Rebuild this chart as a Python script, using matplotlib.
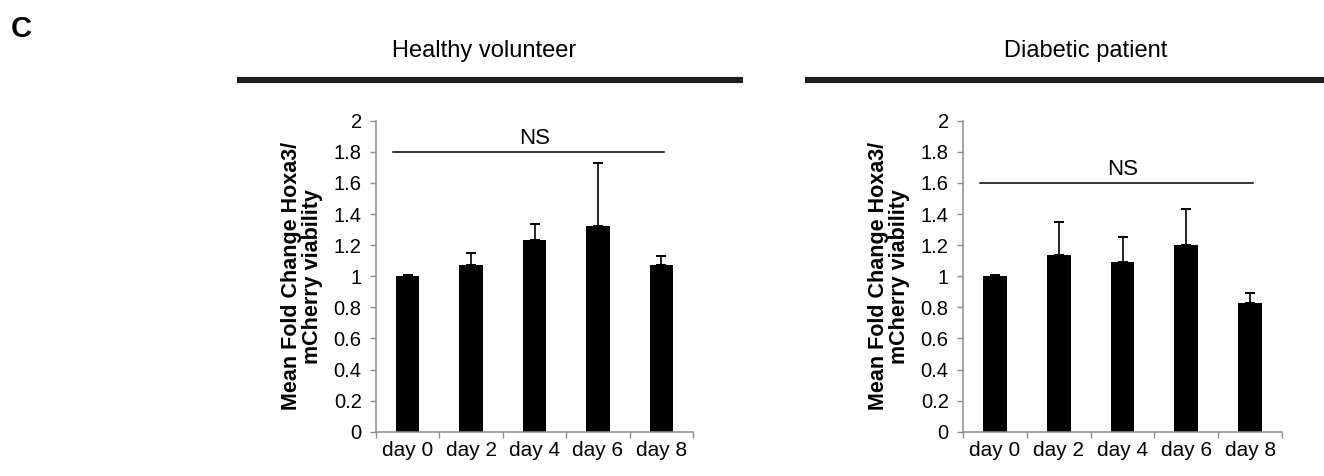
import matplotlib
matplotlib.use('Agg')
import matplotlib.pyplot as plt
from matplotlib.lines import Line2D

plt.rcParams['font.family'] = ['Liberation Sans', 'DejaVu Sans']

days = ['day 0', 'day 2', 'day 4', 'day 6', 'day 8']

healthy_mean = [1.0, 1.07, 1.235, 1.325, 1.07]
healthy_err = [0.005, 0.08, 0.10, 0.40, 0.06]
healthy_ns = 1.8

diabetic_mean = [1.0, 1.135, 1.09, 1.2, 0.825]
diabetic_err = [0.005, 0.215, 0.16, 0.23, 0.07]
diabetic_ns = 1.6

panel_titles = ['Healthy volunteer', 'Diabetic patient']
ylabel = 'Mean Fold Change Hoxa3/\nmCherry viability'

W, H = 1324, 476
fig = plt.figure(figsize=(W / 100, H / 100), dpi=100)

axis_grey = '#8c8c8c'


def px(x, y):
    # pixel position (from top-left) to figure fraction
    return x / W, 1 - y / H


def draw_panel(rect, means, errs, ns_y):
    ax = fig.add_axes(rect)
    x = range(len(days))
    ax.bar(x, means, width=0.37, color='black', zorder=2)
    ax.errorbar(x, means, yerr=[[0] * len(errs), errs], fmt='none',
                ecolor='black', elinewidth=1.2, capsize=3.9, capthick=1.4, zorder=3)
    ax.set_xlim(-0.5, len(days) - 0.5)
    ax.set_ylim(0, 2)
    ax.set_yticks([i / 5 for i in range(11)])
    ax.set_yticklabels(['0', '0.2', '0.4', '0.6', '0.8', '1', '1.2', '1.4', '1.6', '1.8', '2'])
    ax.set_xticks(list(x))
    ax.set_xticklabels(days)
    ax.set_xticks([i - 0.5 for i in range(len(days) + 1)], minor=True)
    ax.tick_params(axis='x', which='major', length=0, pad=7, labelsize=15)
    ax.tick_params(axis='x', which='minor', length=4.5, width=1, color=axis_grey, direction='out')
    ax.tick_params(axis='y', length=4.3, width=1, color=axis_grey, pad=6, labelsize=14.5)
    for side in ['top', 'right']:
        ax.spines[side].set_visible(False)
    for side in ['left', 'bottom']:
        ax.spines[side].set_color(axis_grey)
        ax.spines[side].set_linewidth(1.1)
    ax.set_ylabel(ylabel, fontsize=15.5, fontweight='bold', linespacing=1.0, va='center')
    ax.yaxis.set_label_coords(-0.232, 0.5)
    # significance bar across all days
    ax.plot([-0.23, 4.04], [ns_y, ns_y], color='black', lw=1.1, clip_on=False)
    ax.text(2, ns_y + 0.05, 'NS', ha='center', va='baseline', fontsize=16)
    return ax


draw_panel([376 / W, 44.3 / H, 317 / W, 311 / H], healthy_mean, healthy_err, healthy_ns)
draw_panel([963 / W, 44.3 / H, 319 / W, 311 / H], diabetic_mean, diabetic_err, diabetic_ns)

# group headers with thick rules
fig.text(*px(392, 57), panel_titles[0], ha='left', va='baseline', fontsize=17)
fig.text(*px(1004, 57), panel_titles[1], ha='left', va='baseline', fontsize=17)
for x0, x1 in [(237, 743), (805, 1330)]:
    (fx0, fy), (fx1, _) = px(x0, 80), px(x1, 80)
    fig.add_artist(Line2D([fx0, fx1], [fy, fy], color='#231f20', lw=4.4, solid_capstyle='butt'))

fig.text(*px(11, 37), 'C', ha='left', va='baseline', fontsize=21, fontweight='bold')

fig.savefig('out.png', dpi=100)
